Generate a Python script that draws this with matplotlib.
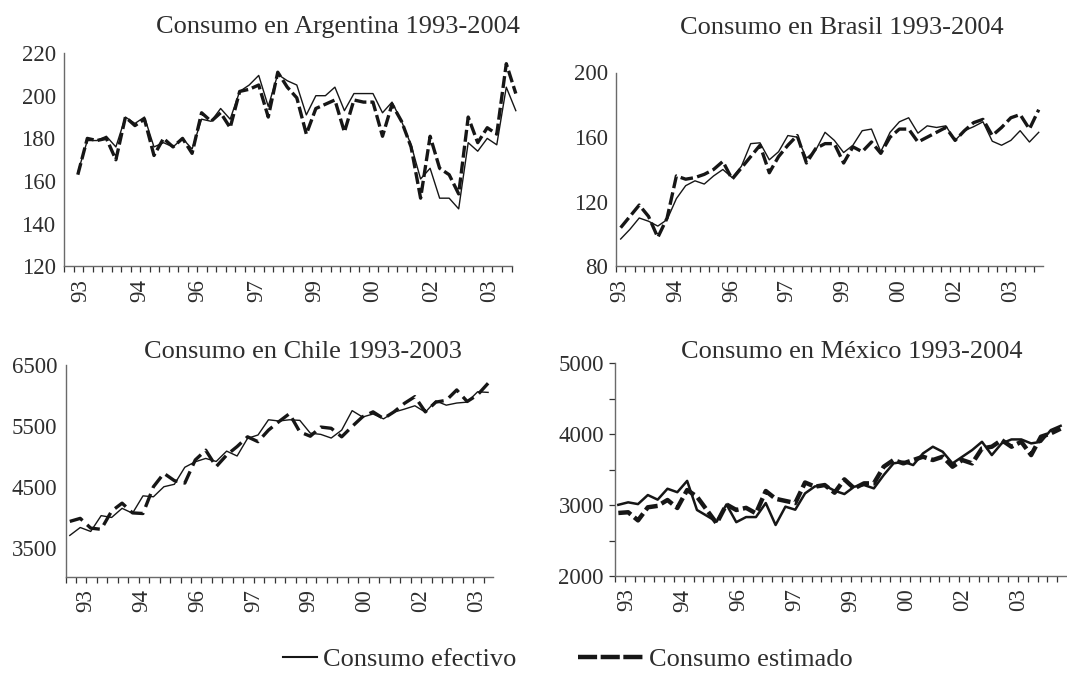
import numpy as np
import matplotlib.pyplot as plt
from matplotlib.lines import Line2D

plt.rcParams['font.family'] = ['Liberation Serif', 'DejaVu Serif']

# quarterly series
year_labels = ['93', '94', '96', '97', '99', '00', '02', '03']

arg_efectivo = [164, 179, 179, 181, 176, 190, 187, 190, 176, 178,
                176, 180, 175, 189, 188, 194, 189, 202, 205, 209.5,
                195, 210, 207, 205, 191, 200, 200, 204, 193, 201,
                201, 201, 192, 197, 188, 177, 161, 166, 152, 152,
                147, 178, 174, 180, 177, 204, 193]
arg_estimado = [163, 180, 179, 180, 170, 190, 186, 189, 172, 180,
                176, 180, 173, 192, 188, 192, 185, 202, 203, 205,
                190, 211, 204, 199, 182, 194, 196, 198, 183, 198,
                197, 197, 181, 196, 188, 176, 152, 181, 166, 163,
                154, 190, 178, 185, 182, 215, 201]

bra_efectivo = [97, 103, 110, 108, 105, 109, 122, 130, 133, 131,
                136, 140, 135, 142, 156, 156.5, 146, 151, 161, 160,
                147, 152, 163, 158, 150.5, 155, 164, 165, 151, 163,
                169.5, 172, 162.5, 167, 166, 167, 158, 164, 166.5, 169.5,
                157.5, 155, 158, 164, 157, 163]
bra_estimado = [104, 111, 118, 111, 98, 110, 136, 134, 135, 137,
                140, 145, 134, 141, 148, 155, 138, 148, 155, 161,
                144, 153, 156, 156, 144, 154, 151, 157, 150, 160,
                165, 165, 157, 160, 163, 166, 158, 164, 169, 171,
                161, 166, 172, 174, 165, 177]

chi_efectivo = [3700, 3830, 3765, 4025, 3995, 4145, 4065, 4350, 4335, 4500,
                4540, 4820, 4910, 4965, 4915, 5085, 5005, 5295, 5350, 5600,
                5580, 5600, 5590, 5380, 5360, 5300, 5430, 5750, 5645, 5695,
                5615, 5725, 5775, 5830, 5725, 5910, 5840, 5875, 5890, 6060,
                6050]
chi_estimado = [3930, 3980, 3820, 3800, 4100, 4230, 4070, 4060, 4500, 4720,
                4600, 4560, 4940, 5100, 4830, 5020, 5160, 5320, 5240, 5430,
                5570, 5700, 5400, 5330, 5480, 5460, 5320, 5490, 5650, 5730,
                5620, 5730, 5870, 5980, 5730, 5890, 5920, 6090, 5900, 6010,
                6200]

mex_efectivo = [3005, 3040, 3015, 3143, 3078, 3232, 3183, 3343, 2932, 2850,
                2767, 3010, 2760, 2832, 2832, 3030, 2720, 2979, 2936, 3167,
                3265, 3277, 3204, 3157, 3261, 3284, 3237, 3425, 3590, 3613,
                3566, 3731, 3825, 3754, 3590, 3684, 3778, 3895, 3707, 3872,
                3928, 3928, 3872, 3895, 4060, 4120]
mex_estimado = [2890, 2900, 2785, 2970, 2990, 3073, 2960, 3214, 3120, 2932,
                2744, 3010, 2932, 2962, 2885, 3200, 3090, 3060, 3030, 3320,
                3261, 3284, 3176, 3364, 3237, 3308, 3308, 3543, 3637, 3590,
                3637, 3684, 3637, 3684, 3543, 3637, 3590, 3801, 3825, 3919,
                3825, 3895, 3707, 3966, 4013, 4080]

W, H = 1067, 679
INK = '#161616'
TXT = '#2e2e2e'
AXC = '#6a6a6a'
TICK_FS = 16.5

fig = plt.figure(figsize=(W / 100, H / 100), dpi=100)


def px_rect(left, top, right, bottom):
    return [left / W, 1 - bottom / H, (right - left) / W, (bottom - top) / H]


def panel(rect, efectivo, estimado, xlim, lab0, labstep, ylim, yticks,
          title, title_xy, lw_sol=1.0, lw_das=2.4, dash=(3.6, 1.2),
          ytick_len=0, ylabel_every=1):
    ax = fig.add_axes(px_rect(*rect))
    x = np.arange(len(efectivo))
    ax.plot(x, efectivo, color=INK, lw=lw_sol, clip_on=False,
            label='Consumo efectivo')
    ax.plot(x, estimado, color=INK, lw=lw_das, dashes=dash, clip_on=False,
            label='Consumo estimado')
    ax.set_xlim(*xlim)
    ax.set_ylim(*ylim)
    for s in ['top', 'right']:
        ax.spines[s].set_visible(False)
    for s in ['left', 'bottom']:
        ax.spines[s].set_color(AXC)
        ax.spines[s].set_linewidth(1.0)

    # tick marks every quarter, year labels as minor ticks
    ax.set_xticks(np.arange(xlim[0], xlim[1] + 1e-6, 1.0))
    ax.set_xticklabels([])
    ax.tick_params(axis='x', which='major', length=4, width=0.9,
                   color='#333333', direction='out')
    ax.set_xticks([lab0 + labstep * k for k in range(len(year_labels))],
                  minor=True)
    ax.set_xticklabels(year_labels, minor=True, rotation=90)
    ax.tick_params(axis='x', which='minor', length=0, pad=9,
                   labelsize=TICK_FS, labelcolor=TXT)

    ax.set_yticks(yticks)
    ax.set_yticklabels([str(v) if i % ylabel_every == 0 else ''
                        for i, v in enumerate(yticks)])
    ax.tick_params(axis='y', length=ytick_len, width=0.9, color='#333333',
                   pad=6 if ytick_len == 0 else 4,
                   labelsize=TICK_FS, labelcolor=TXT)

    fig.text(title_xy[0] / W, 1 - title_xy[1] / H, title, ha='center',
             va='baseline', fontsize=19, color=TXT)
    return ax


panel((64, 53, 512, 266.5), arg_efectivo, arg_estimado,
      (-1.45, 45.6), 0.36, 6.13, (120, 220), [120, 140, 160, 180, 200, 220],
      'Consumo en Argentina 1993-2004', (338, 32.5))
panel((616, 72.5, 1043, 266.5), bra_efectivo, bra_estimado,
      (-0.5, 45.46), -0.07, 6.0, (80, 200), [80, 120, 160, 200],
      'Consumo en Brasil 1993-2004', (842, 33.5), dash=(3.8, 1.3))
panel((65.5, 365, 493, 576.5), chi_efectivo, chi_estimado,
      (-0.41, 40.47), 1.53, 5.34, (3025, 6500), [3500, 4500, 5500, 6500],
      'Consumo en Chile 1993-2003', (303, 357.5), dash=(4.2, 1.9))
panel((615, 363.5, 1067, 576), mex_efectivo, mex_estimado,
      (-0.34, 45.65), 0.85, 5.69, (2000, 5000),
      [2000, 2500, 3000, 3500, 4000, 4500, 5000],
      'Consumo en México 1993-2004', (852, 357.5),
      lw_sol=1.8, lw_das=3.2, dash=(3.0, 1.0), ytick_len=4, ylabel_every=2)

# legend: two entries with different handle lengths, as in the original
h_sol = Line2D([], [], color=INK, lw=1.5)
h_das = Line2D([], [], color=INK, lw=3.2, dashes=(4.3, 0.8))
common = dict(loc='center left', frameon=False, borderpad=0, borderaxespad=0,
              handletextpad=0.2, fontsize=19, labelcolor=TXT)
fig.legend([h_sol], ['Consumo efectivo'], bbox_to_anchor=(283 / W, 1 - 659 / H),
           handlelength=1.3, **common)
fig.legend([h_das], ['Consumo estimado'], bbox_to_anchor=(578 / W, 1 - 659 / H),
           handlelength=2.5, **common)

fig.savefig('out.png', dpi=100, facecolor='white')
